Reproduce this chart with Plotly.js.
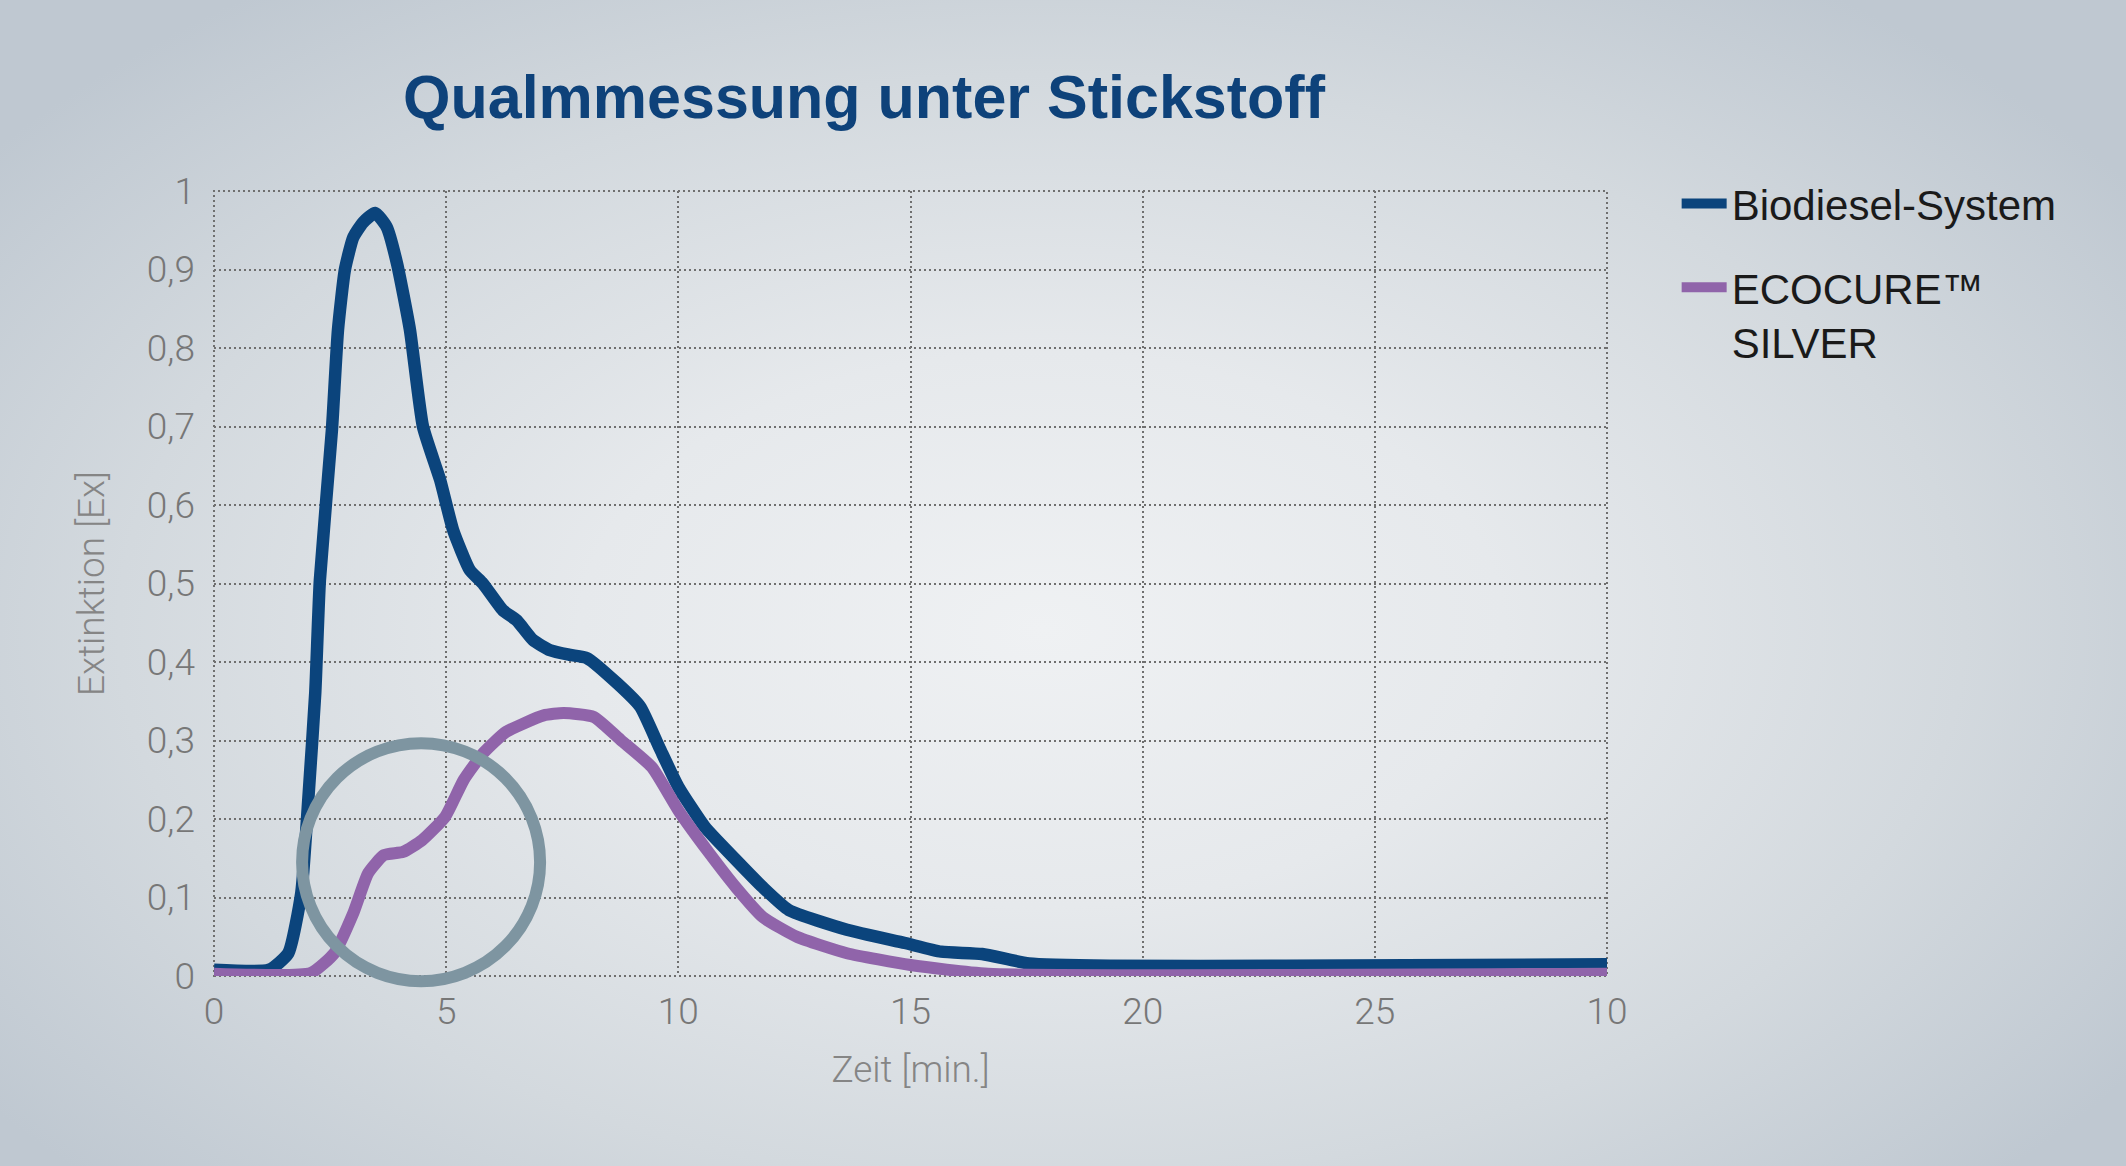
<!DOCTYPE html>
<html>
<head>
<meta charset="utf-8">
<script src="https://cdn.plot.ly/plotly-3.0.1.min.js"></script>
<style>
  html, body { margin: 0; padding: 0; }
  body {
    width: 2126px; height: 1166px; overflow: hidden;
    background: radial-gradient(ellipse 62% 68% at 49% 54%, #eff1f3 0%, #e6e9ec 35%, #d3d9de 70%, #bfc8d1 100%);
    background-color: #bcc6d0;
  }
  #chart { width: 2126px; height: 1166px; }
</style>
</head>
<body>
<div id="chart"></div>
<script>
// ---- data ----
const biodieselTime = [0, 1.19, 1.6, 1.88, 2.04, 2.18, 2.28, 2.54, 2.67, 2.82, 3.0, 3.21, 3.47, 3.72, 3.94, 4.22, 4.5, 4.87, 5.15, 5.51, 5.79, 6.22, 6.52, 6.87, 7.24, 7.67, 8.03, 8.68, 9.18, 9.6, 10.0, 10.57, 11.24, 11.82, 12.38, 13.63, 14.88, 15.66, 16.54, 17.55, 19.3, 23.1, 30];
const biodieselExt  = [0.008, 0.008, 0.029, 0.106, 0.233, 0.36, 0.504, 0.696, 0.823, 0.9, 0.941, 0.96, 0.972, 0.954, 0.908, 0.823, 0.70, 0.632, 0.568, 0.517, 0.50, 0.466, 0.453, 0.428, 0.415, 0.409, 0.405, 0.373, 0.343, 0.29, 0.241, 0.19, 0.148, 0.113, 0.084, 0.059, 0.042, 0.031, 0.028, 0.016, 0.013, 0.013, 0.015];

const ecocureTime = [0, 2.09, 2.59, 3.0, 3.32, 3.66, 4.07, 4.48, 4.98, 5.38, 5.8, 6.29, 7.1, 7.53, 8.18, 8.77, 9.43, 10.0, 10.66, 11.24, 11.82, 12.55, 13.63, 15.0, 16.67, 30];
const ecocureExt  = [0.003, 0.004, 0.029, 0.08, 0.131, 0.154, 0.158, 0.173, 0.203, 0.25, 0.284, 0.311, 0.332, 0.335, 0.33, 0.30, 0.266, 0.211, 0.157, 0.113, 0.075, 0.05, 0.029, 0.014, 0.003, 0.003];

const seriesNames = ['Biodiesel-System', 'ECOCURE™<br>SILVER'];

const xTickVals = [0, 5, 10, 15, 20, 25, 30];
const xTickText = ['0', '5', '10', '15', '20', '25', '10'];
const yTickVals = [0, 0.1, 0.2, 0.3, 0.4, 0.5, 0.6, 0.7, 0.8, 0.9, 1];
const yTickText = ['0', '0,1', '0,2', '0,3', '0,4', '0,5', '0,6', '0,7', '0,8', '0,9', '1'];

// highlighted region (circle): centre in data units
const highlightCenter = [4.46, 0.145];

const xRange = [0, 30];
const yRange = [0, 1];

// ---- drawing ----
const W = 2126, H = 1166;
const M = { l: 214, r: 519, t: 191, b: 190 };
const plotW = W - M.l - M.r, plotH = H - M.t - M.b;
const toPaperX = v => (v - xRange[0]) / (xRange[1] - xRange[0]);
const toPaperY = v => (v - yRange[0]) / (yRange[1] - yRange[0]);
const circleR = 119; // px
const cx = toPaperX(highlightCenter[0]), cy = toPaperY(highlightCenter[1]);
const rx = circleR / plotW, ry = circleR / plotH;

const BLUE = '#0b447c';
const PURPLE = '#9064aa';
const lightFont = 'Roboto, "Liberation Sans", sans-serif';
const tickFont = { family: lightFont, size: 37, color: '#777777', weight: 300 };
const gridDash = '2px,3px';

const traces = [
  { x: biodieselTime, y: biodieselExt, name: seriesNames[0], type: 'scatter', mode: 'lines',
    line: { color: BLUE, width: 12.5, shape: 'spline', smoothing: 0.5 }, legendgroup: 'a', hoverinfo: 'skip' },
  { x: ecocureTime, y: ecocureExt, name: seriesNames[1], type: 'scatter', mode: 'lines',
    line: { color: PURPLE, width: 12, shape: 'spline', smoothing: 0.5 }, legendgroup: 'b', hoverinfo: 'skip' }
];

const layout = {
  width: W, height: H,
  margin: M,
  paper_bgcolor: 'rgba(0,0,0,0)',
  plot_bgcolor: 'rgba(0,0,0,0)',
  title: {
    text: 'Qualmmessung unter Stickstoff',
    font: { family: '"Liberation Sans", Arial, sans-serif', size: 61, color: '#0e427a', weight: 700 },
    x: 864 / W, xanchor: 'center', xref: 'container',
    y: 1 - 97 / H, yanchor: 'middle', yref: 'container'
  },
  xaxis: {
    range: xRange, tickmode: 'array', tickvals: xTickVals, ticktext: xTickText,
    showgrid: true, gridcolor: '#6f6f6f', gridwidth: 2, griddash: gridDash,
    zeroline: false, showline: false, ticks: '', ticklabelstandoff: 10,
    tickfont: tickFont, automargin: false, fixedrange: true,
    title: { text: 'Zeit [min.]', font: { family: lightFont, size: 37, color: '#858585', weight: 300 }, standoff: 24 }
  },
  yaxis: {
    range: yRange, tickmode: 'array', tickvals: yTickVals, ticktext: yTickText,
    showgrid: true, gridcolor: '#6f6f6f', gridwidth: 2, griddash: gridDash,
    zeroline: false, showline: false, ticks: '', ticklabelstandoff: 18,
    tickfont: tickFont, automargin: false, fixedrange: true,
    title: { text: 'Extinktion [Ex]', font: { family: lightFont, size: 37, color: '#858585', weight: 300 }, standoff: 30 }
  },
  showlegend: true,
  legend: {
    x: 1.05, xanchor: 'left', y: 1.027, yanchor: 'top',
    font: { family: '"Liberation Sans", Arial, sans-serif', size: 42, color: '#1a1a1a' },
    bgcolor: 'rgba(0,0,0,0)', traceorder: 'grouped', tracegroupgap: 26,
    valign: 'top', itemwidth: 45
  },
  shapes: [
    { type: 'rect', xref: 'paper', yref: 'paper', x0: 0, x1: 1, y0: 0, y1: 1,
      line: { color: '#6f6f6f', width: 2, dash: gridDash }, layer: 'below' },
    { type: 'circle', xref: 'paper', yref: 'paper',
      x0: cx - rx, x1: cx + rx, y0: cy - ry, y1: cy + ry,
      line: { color: '#7e95a1', width: 12 }, layer: 'above' }
  ]
};

Plotly.newPlot('chart', traces, layout, { staticPlot: true, displayModeBar: false });
</script>
</body>
</html>
